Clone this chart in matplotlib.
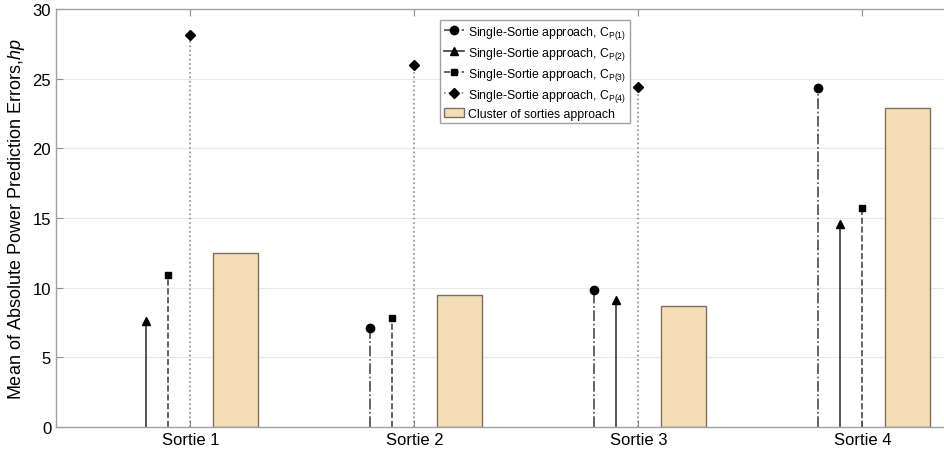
import matplotlib.pyplot as plt
import numpy as np
from matplotlib.legend_handler import HandlerLine2D
from matplotlib.patches import Patch
from matplotlib.lines import Line2D

plt.rcParams['font.family'] = 'Liberation Sans'
plt.rcParams['mathtext.fontset'] = 'custom'
plt.rcParams['mathtext.rm'] = 'Liberation Sans'
plt.rcParams['mathtext.it'] = 'Liberation Sans:italic'

sorties = ["Sortie 1", "Sortie 2", "Sortie 3", "Sortie 4"]
# single-sortie errors per Cp model (nan = model built from that sortie)
cp1 = [np.nan, 7.1, 9.8, 24.3]
cp2 = [7.6, np.nan, 9.1, 14.6]
cp3 = [10.9, 7.8, np.nan, 15.7]
cp4 = [28.1, 26.0, 24.4, np.nan]
cluster = [12.5, 9.45, 8.7, 22.9]

fig = plt.figure(figsize=(9.45, 4.56), dpi=100)
ax = fig.add_axes([56/945, 28/456, 896/945, 418/456])

x = np.arange(1, 5)


def stem_x(vals_list):
    # each sortie shows 3 stems packed at -0.2, -0.1, 0.0
    pos = np.full((len(vals_list), 4), np.nan)
    for j in range(4):
        k = 0
        for i in range(len(vals_list)):
            if not np.isnan(vals_list[i][j]):
                pos[i, j] = x[j] - 0.2 + 0.1 * k
                k += 1
    return pos


series = [cp1, cp2, cp3, cp4]
pos = stem_x(series)
styles = [
    dict(ls='-.', color='#4a4a4a', marker='o', ms=6),
    dict(ls='-', color='#3a3a3a', marker='^', ms=6),
    dict(ls='--', color='#4a4a4a', marker='s', ms=4.5),
    dict(ls=':', color='#8a8a8a', marker='D', ms=5.5),
]
handles = []
for i, vals in enumerate(series):
    st = styles[i]
    for j in range(4):
        if np.isnan(vals[j]):
            continue
        ax.plot([pos[i, j], pos[i, j]], [0, vals[j]], ls=st['ls'], color=st['color'],
                lw=1.2, zorder=2)
        ax.plot(pos[i, j], vals[j], marker=st['marker'], color='black', ms=st['ms'],
                ls='none', zorder=3)
    handles.append(Line2D([], [], ls=st['ls'], color=st['color'], lw=1.2,
                          marker=st['marker'], ms=st['ms'], mfc='black', mec='black'))

ax.bar(x + 0.2, cluster, width=0.2, color='#F5DDB8', edgecolor='#7a7060', lw=1.0, zorder=2)
handles.append(Patch(facecolor='#F5DDB8', edgecolor='#7a7060'))


class EndMarker(HandlerLine2D):
    # put the marker at the right end of the legend line
    def get_xdata(self, legend, xdescent, ydescent, width, height, fontsize):
        xdata = np.array([-xdescent, -xdescent + width])
        return xdata, np.array([-xdescent + width * 0.85])


labels = [r"Single-Sortie approach, C$_{\mathrm{P(%d)}}$" % k for k in range(1, 5)]
labels.append("Cluster of sorties approach")
leg = fig.legend(handles, labels, loc='upper left', bbox_to_anchor=(440/945, 1 - 21/456),
                 fontsize=8.8, handlelength=1.7, handletextpad=0.3, labelspacing=0.33,
                 borderpad=0.3, borderaxespad=0, fancybox=False, edgecolor='#a0a0a0',
                 framealpha=1, handler_map={Line2D: EndMarker(numpoints=1)})
leg.get_frame().set_linewidth(1.0)

ax.set_xlim(0.4, 4.4)
ax.set_ylim(0, 30)
ax.set_yticks(np.arange(0, 31, 5))
ax.set_xticks(x)
ax.set_xticklabels(sorties)
ax.yaxis.grid(True, color='#e8e8e8', lw=0.8)
ax.set_axisbelow(True)
ax.tick_params(axis='both', direction='in', top=True, right=True, color='#909090',
               labelsize=12, length=5)
for s in ax.spines.values():
    s.set_color('#a0a0a0')
    s.set_linewidth(1.0)
ax.set_ylabel(r"Mean of Absolute Power Prediction Errors,$\mathit{hp}$", fontsize=13)

fig.savefig("out.png", dpi=100)
